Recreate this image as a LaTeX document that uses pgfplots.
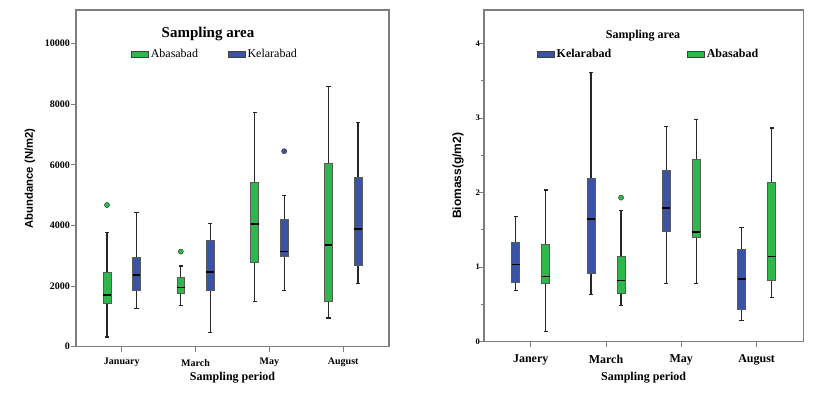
\documentclass[border=0pt]{standalone}
\usepackage{pgfplots}
\pgfplotsset{compat=1.18}
\usepackage{fontspec}
\setmainfont{Liberation Serif}
\newfontfamily\arialfont{Liberation Sans}
\definecolor{cgreen}{RGB}{46,184,74}
\definecolor{cblue}{RGB}{59,83,165}
\definecolor{framec}{RGB}{125,125,125}
\definecolor{boxedge}{RGB}{90,90,90}
% #1 position, #2 lower whisker, #3 Q1, #4 median, #5 Q3, #6 upper whisker, #7 colour
\newcommand{\bx}[7]{%
  \pgfmathsetmacro\bxl{#1-0.053}\pgfmathsetmacro\bxr{#1+0.053}%
  \pgfmathsetmacro\cxl{#1-0.028}\pgfmathsetmacro\cxr{#1+0.028}%
  \addplot[black!85, line width=1.2pt, forget plot] coordinates {(#1,#2) (#1,#3)};
  \addplot[black!85, line width=1.2pt, forget plot] coordinates {(#1,#5) (#1,#6)};
  \addplot[black!85, line width=1.2pt, forget plot] coordinates {(\cxl,#2) (\cxr,#2)};
  \addplot[black!85, line width=1.2pt, forget plot] coordinates {(\cxl,#6) (\cxr,#6)};
  \addplot[fill=#7, draw=boxedge, line width=0.8pt, forget plot] coordinates {(\bxl,#3) (\bxr,#3) (\bxr,#5) (\bxl,#5)} --cycle;
  \addplot[black, line width=1.8pt, forget plot] coordinates {(\bxl,#4) (\bxr,#4)};
}
\pgfplotsset{
  boxaxis/.style={
    scale only axis,
    xmin=-0.62, xmax=3.62, ymin=0,
    xtick={0,1,2,3}, ytick pos=left, xtick pos=left,
    tick align=outside, major tick length=5pt,
    tick style={framec, line width=1pt},
    axis line style={framec, line width=1.2pt},
    scaled y ticks=false,
    /pgf/number format/assume math mode=true,
    /pgf/number format/1000 sep={},
    legend cell align=left,
  }
}
\begin{document}
\begin{tikzpicture}
\path[use as bounding box] (0,0) rectangle (834pt,396pt);
% ---------- left: abundance ----------
\begin{axis}[boxaxis,
  at={(76pt,49.3pt)}, anchor=south west,
  width=313pt, height=336.7pt,
  ymax=11110, ytick={0,2000,4000,6000,8000,10000},
  xticklabels={January,March,May,August},
  xticklabel style={font=\bfseries\fontsize{10}{12}\selectfont, anchor=center, inner sep=0pt, yshift=-11pt},
  yticklabel style={font=\bfseries\fontsize{10}{12}\selectfont, anchor=east, inner sep=0pt, xshift=-1pt},
  xlabel={Sampling period},
  xlabel style={font=\bfseries\fontsize{12}{14}\selectfont, at={(axis description cs:0.5,0)}, anchor=center, yshift=-31.3pt},
  ylabel={Abundance (N/m2)},
  ylabel style={font=\arialfont\bfseries\fontsize{11.3}{13}\selectfont, at={(axis description cs:-0.147,0.5)}, anchor=center},
  legend columns=2,
  legend style={draw=none, fill=none, at={(axis description cs:0.176,0.890)}, anchor=north west,
    font=\fontsize{12}{14}\selectfont, inner sep=0pt,
    /tikz/every even column/.append style={column sep=28pt}},
]
\addlegendimage{area legend, fill=cgreen, draw=black!75}\addlegendentry{Abasabad}
\addlegendimage{area legend, fill=cblue, draw=black!75}\addlegendentry{Kelarabad}
\bx{-0.2}{320}{1425}{1713}{2464}{3779}{cgreen}
\bx{0.2}{1271}{1856}{2365}{2961}{4431}{cblue}
\bx{0.8}{1348}{1768}{1956}{2287}{2663}{cgreen}
\bx{1.2}{475}{1856}{2464}{3492}{4077}{cblue}
\bx{1.8}{1503}{2796}{4055}{5418}{7736}{cgreen}
\bx{2.2}{1845}{2983}{3138}{4188}{4983}{cblue}
\bx{2.8}{950}{1492}{3359}{6033}{8593}{cgreen}
\bx{3.2}{2077}{2696}{3890}{5582}{7407}{cblue}
\addplot[only marks, mark=*, mark size=2.6pt, mark options={fill=cgreen, draw=black!80}, forget plot] coordinates {(-0.2,4674) (0.8,3138)};
\addplot[only marks, mark=*, mark size=2.6pt, mark options={fill=cblue, draw=black!80}, forget plot] coordinates {(2.2,6451)};
\node[font=\bfseries\fontsize{15}{17}\selectfont, anchor=center] at (axis description cs:0.4217,0.9287) {Sampling area};
\end{axis}
% ---------- right: biomass ----------
\begin{axis}[boxaxis,
  at={(484pt,54.3pt)}, anchor=south west,
  width=319.3pt, height=331.7pt,
  ymax=4.45, ytick={0,1,2,3,4}, minor y tick num=1, minor tick length=3pt,
  xticklabels={Janery,March,May,August},
  xticklabel style={font=\bfseries\fontsize{12}{14}\selectfont, anchor=center, inner sep=0pt, yshift=-13pt},
  yticklabel style={font=\bfseries\fontsize{8.5}{10}\selectfont, anchor=east, inner sep=0pt, xshift=1pt},
  xlabel={Sampling period},
  xlabel style={font=\bfseries\fontsize{12}{14}\selectfont, at={(axis description cs:0.5,0)}, anchor=center, yshift=-35.6pt},
  ylabel={Biomass(g/m2)},
  ylabel style={font=\arialfont\bfseries\fontsize{12}{14}\selectfont, at={(axis description cs:-0.0814,0.5)}, anchor=center},
  legend columns=2,
  legend style={draw=none, fill=none, at={(axis description cs:0.166,0.888)}, anchor=north west,
    font=\bfseries\fontsize{12}{14}\selectfont, inner sep=0pt,
    /tikz/every even column/.append style={column sep=74pt}},
]
\addlegendimage{area legend, fill=cblue, draw=black!75}\addlegendentry{Kelarabad}
\addlegendimage{area legend, fill=cgreen, draw=black!75}\addlegendentry{Abasabad}
\bx{-0.2}{0.692}{0.795}{1.036}{1.326}{1.679}{cblue}
\bx{0.2}{0.138}{0.777}{0.875}{1.304}{2.036}{cgreen}
\bx{0.8}{0.629}{0.911}{1.647}{2.196}{3.607}{cblue}
\bx{1.2}{0.482}{0.652}{0.821}{1.147}{1.763}{cgreen}
\bx{1.8}{0.777}{1.482}{1.795}{2.299}{2.884}{cblue}
\bx{2.2}{0.777}{1.397}{1.469}{2.446}{2.978}{cgreen}
\bx{2.8}{0.286}{0.429}{0.839}{1.241}{1.527}{cblue}
\bx{3.2}{0.594}{0.821}{1.143}{2.138}{2.866}{cgreen}
\addplot[only marks, mark=*, mark size=2.6pt, mark options={fill=cgreen, draw=black!80}, forget plot] coordinates {(1.2,1.933)};
\node[font=\bfseries\fontsize{12}{14}\selectfont, anchor=center] at (axis description cs:0.498,0.9216) {Sampling area};
\end{axis}
\end{tikzpicture}
\end{document}
